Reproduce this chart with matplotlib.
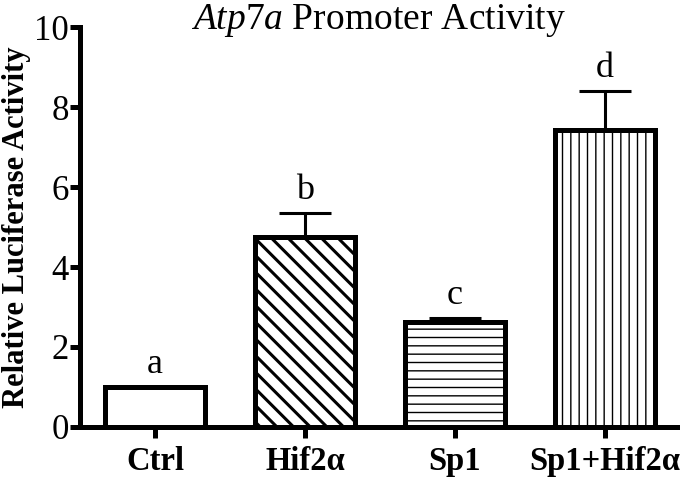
import matplotlib
matplotlib.use("Agg")
import matplotlib.pyplot as plt
import numpy as np

categories = ["Ctrl", "Hif2α", "Sp1", "Sp1+Hif2α"]
values = [1.0, 4.75, 2.62, 7.42]
errors = [0.0, 0.6, 0.1, 0.98]
letters = ["a", "b", "c", "d"]
hatches = ["", "\\\\", "--", "||"]
hatch_lw = [1.0, 2.2, 1.0, 1.0]
y_ticks = [0, 2, 4, 6, 8, 10]

plt.rcParams["font.family"] = ["Liberation Serif", "DejaVu Serif"]
plt.rcParams["mathtext.fontset"] = "custom"
plt.rcParams["mathtext.rm"] = "Liberation Serif"
plt.rcParams["mathtext.it"] = "Liberation Serif:italic"

fig = plt.figure(figsize=(6.8, 4.78), dpi=100)
ax = fig.add_axes([0.1176, 0.1067, 0.8780, 0.8368])

x = np.arange(len(categories))
for i in range(len(categories)):
    with plt.rc_context({"hatch.linewidth": hatch_lw[i]}):
        ax.bar(x[i], values[i], width=0.667, color="white", edgecolor="black",
               linewidth=3.6, hatch=hatches[i], zorder=2)
    if errors[i] > 0:
        ax.errorbar(x[i], values[i], yerr=[[0], [errors[i]]], fmt="none",
                    ecolor="black", elinewidth=2.2, capsize=19, capthick=2.2, zorder=1)
    ax.text(x[i], values[i] + errors[i] + 0.15, letters[i], ha="center", va="bottom",
            fontsize=26)

ax.set_xlim(-0.5, 3.48)
ax.set_ylim(0, 10)
ax.set_yticks(y_ticks)
ax.set_xticks(x)
ax.set_xticklabels(categories, fontsize=23.5, fontweight="bold")
ax.tick_params(axis="y", labelsize=25, width=3.6, length=7, pad=1)
ax.tick_params(axis="x", width=3.6, length=8, pad=6)
for s in ["top", "right"]:
    ax.spines[s].set_visible(False)
for s in ["left", "bottom"]:
    ax.spines[s].set_linewidth(3.6)
ax.set_ylabel("Relative Luciferase Activity", fontsize=22, fontweight="bold", labelpad=2)
fig.text(0.557, 0.995, r"$\it{Atp7a}$ Promoter Activity", ha="center", va="top", fontsize=27)

fig.savefig("out.png", dpi=100)
